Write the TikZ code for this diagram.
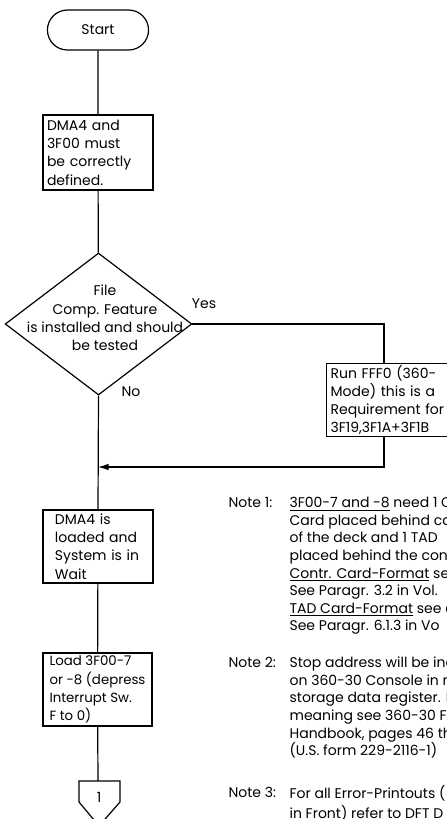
\documentclass[tikz,border=0pt]{standalone}
\usepackage{fontspec}
\setmainfont{Poppins}
\usetikzlibrary{arrows.meta,positioning,shapes.geometric,shapes.misc,calc}
\hyphenpenalty=10000
\exhyphenpenalty=10000

\begin{document}
\begin{tikzpicture}[x=0.75pt,y=-0.75pt,line width=0.9pt,
    every node/.style={font=\fontsize{10.5}{13.7}\selectfont},
    procbox/.style={draw,rectangle,align=left,inner ysep=1pt},
    notetxt/.style={anchor=north west,inner sep=0pt,align=left,
        font=\fontsize{10.5}{13.2}\selectfont}]

\useasboundingbox (0,0) rectangle (447,819);

% flow chart
\node[rounded rectangle,draw,minimum width=82.5pt,minimum height=30pt] (start) at (98,30) {Start};
\node[procbox,text width=76.5pt,inner xsep=3pt,minimum height=56.25pt] (defbox) at (98,152.5)
    {DMA4 and\\3F00 must\\be correctly\\defined.};

\node[diamond,draw,inner sep=0pt,minimum width=140pt,minimum height=106.5pt] (test) at (98.5,324) {};
\node[align=center] (testtxt) at (105,318)
    {File\\Comp. Feature\\is installed and should\\be tested};
\node (yeslbl) at (204,304) {Yes};
\node (nolbl) at (131,392) {No};

\coordinate (runtop) at (384,363);
\node[procbox,anchor=north west,text width=88.5pt,inner xsep=3pt,minimum height=53.25pt] (runbox) at (326,363)
    {Run FFF0 (360-\\Mode) this is a\\Requirement for\\3F19,3F1A+3F1B};
\coordinate (merge) at (98,467);

\node[procbox,text width=64.5pt,inner xsep=9pt,minimum height=54.75pt] (loaded) at (98,546.5)
    {DMA4 is\\loaded and\\System is in\\Wait};
\node[procbox,inner xsep=2pt,minimum width=81.75pt,minimum height=54.75pt,
    font=\fontsize{10}{13.7}\selectfont] (load) at (97.5,689.5)
    {Load 3F00-7\\or -8 (depress\\Interrupt Sw.\\F to 0)};

\coordinate (conn) at (98,781);
\draw (conn) +(-19,0) -- +(22,0) -- +(22,21) -- +(1,45) -- +(-19,21) -- cycle;
\node (onelbl) at (99,797) {1};

\begin{scope} % connectors
    \draw (start) -- (defbox);
    \draw (defbox) -- (test);
    \draw (test.east) -| (runtop);
    \draw[-{Latex[length=8pt,width=5pt]}] (runbox.south -| runtop) |- (merge);
    \draw (test.south) -- (loaded.north);
    \draw (loaded) -- (load);
    \draw (load) -- (conn);
\end{scope}

% notes
\node[notetxt] (note1) at (228,494.7) {\strut Note 1:};
\node[notetxt] (note1txt) at (289,494.7)
    {\strut\underline{3F00-7 and -8} need 1 C\\
     Card placed behind car\\
     of the deck and 1 TAD\\
     placed behind the cont\\
     \underline{Contr. Card-Format} see\\
     See Paragr. 3.2 in Vol.\\
     \underline{TAD Card-Format} see d\\
     See Paragr. 6.1.3 in Vo};
\node[notetxt] (note2) at (228,654.7) {\strut Note 2:};
\node[notetxt] (note2txt) at (289,654.7)
    {\strut Stop address will be ind\\
     on 360-30 Console in m\\
     storage data register. F\\
     meaning see 360-30 F.\\
     Handbook, pages 46 thr\\
     (U.S. form 229-2116-1)};
\node[notetxt] (note3) at (228,784.7) {\strut Note 3:};
\node[notetxt] (note3txt) at (289,784.7)
    {\strut For all Error-Printouts (\\
     in Front) refer to DFT D};

\end{tikzpicture}
\end{document}
